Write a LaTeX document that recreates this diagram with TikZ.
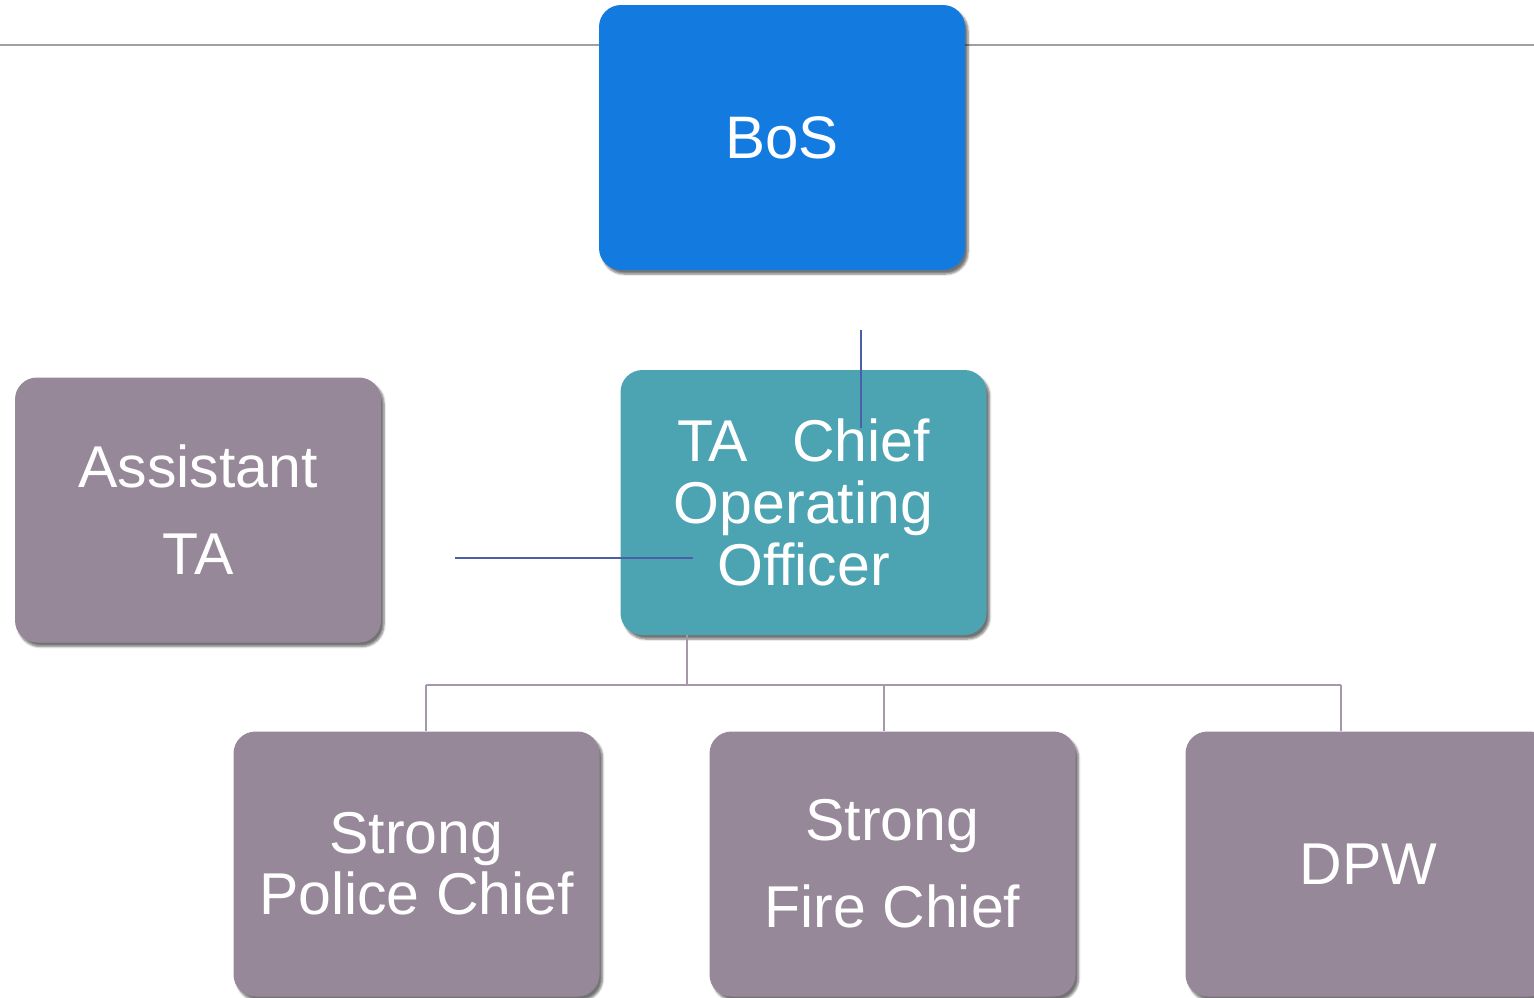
\documentclass[tikz,border=0pt]{standalone}
\usepackage{fontspec}
\setmainfont{Liberation Sans}
\usetikzlibrary{shadows.blur}
\definecolor{bosblue}{HTML}{137BE0}
\definecolor{cooteal}{HTML}{4CA3B2}
\definecolor{mauve}{HTML}{968899}
\definecolor{linkblue}{HTML}{4A5FA8}
\definecolor{treeline}{HTML}{A797AB}
\definecolor{topline}{HTML}{A0A0A0}
\tikzset{
  orgbox/.style={rounded corners=22pt, minimum width=366pt, minimum height=265pt,
    inner sep=0pt, align=center, text=white,
    blur shadow={shadow xshift=3pt, shadow yshift=-4pt, shadow blur steps=6, shadow opacity=55}},
  tightfont/.style={font=\fontsize{59}{62}\selectfont},
  loosefont/.style={font=\fontsize{59}{87}\selectfont},
  tree/.style={draw=treeline, line width=2.5pt},
  link/.style={draw=linkblue, line width=2pt},
}
\begin{document}
\begin{tikzpicture}[x=1pt, y=-1pt]
\useasboundingbox (0,0) rectangle (1534,997);
\clip (0,0) rectangle (1534,997);
\coordinate (lineL) at (0,45);
\coordinate (lineR) at (1534,45);
\draw[topline, line width=1.5pt] (lineL) -- (lineR);
% tree connectors (behind boxes)
\coordinate (cooout) at (687,635);
\coordinate (hub) at (687,685);
\coordinate (dropA) at (426,685);
\coordinate (dropB) at (884,685);
\coordinate (dropC) at (1341,685);
% boxes
\node[orgbox, fill=bosblue, font=\fontsize{60}{62}\selectfont] (bos) at (782,137.5) {BoS};
\node[orgbox, fill=cooteal, tightfont] (coo) at (803.5,502.5) {TA\hspace{44pt}Chief\\Operating\\Officer};
\node[orgbox, fill=mauve, loosefont] (asst) at (198,510) {Assistant\\TA};
\node[orgbox, fill=mauve, font=\fontsize{59}{61}\selectfont] (police) at (416.5,864) {Strong\\Police Chief};
\node[orgbox, fill=mauve, loosefont] (fire) at (892.5,864) {Strong\\Fire Chief};
\node[orgbox, fill=mauve, tightfont] (dpw) at (1368.5,864) {DPW};
\draw[tree] (cooout) -- (hub);
\draw[tree] (dropA) -- (dropC);
\draw[tree] (dropA) -- (police.north -| dropA);
\draw[tree] (dropB) -- (fire.north -| dropB);
\draw[tree] (dropC) -- (dpw.north -| dropC);
% blue free lines
\coordinate (vtop) at (861,330);
\coordinate (vbot) at (861,428);
\coordinate (hleft) at (455,558);
\coordinate (hright) at (693,558);
\draw[link] (vtop) -- (vbot);
\draw[link] (hleft) -- (hright);
\end{tikzpicture}
\end{document}
